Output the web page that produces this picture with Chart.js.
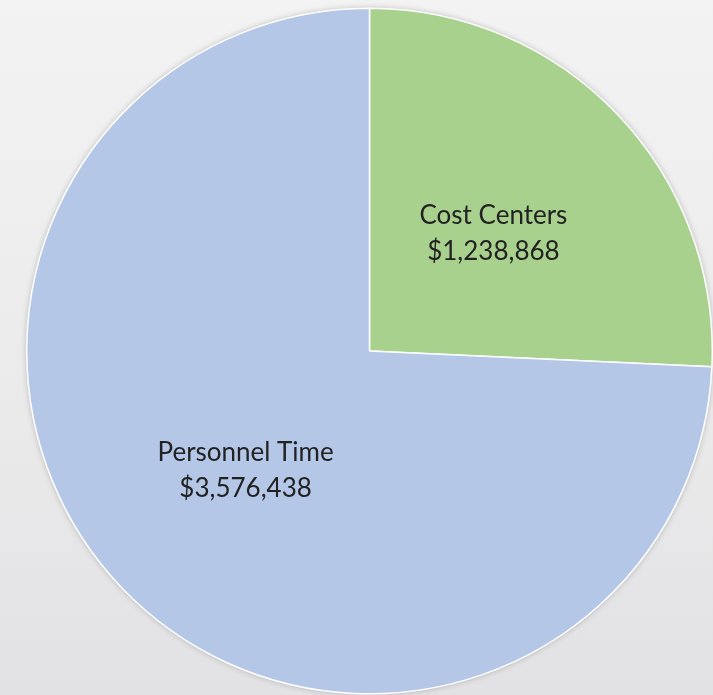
<!DOCTYPE html>
<html>
<head>
<meta charset="utf-8">
<script src="https://cdn.jsdelivr.net/npm/chart.js@4"></script>
<style>
  html, body { margin: 0; padding: 0; }
  body { width: 713px; height: 695px; background: linear-gradient(to bottom, #f3f3f4 0%, #ebebec 55%, #e2e2e4 100%); overflow: hidden; }
  #wrap { position: relative; width: 713px; height: 695px; }
</style>
</head>
<body>
<div id="wrap"><canvas id="c" width="713" height="695"></canvas></div>
<script>
const categories = ["Cost Centers", "Personnel Time"];
const values = [1238868, 3576438];
const valueLabels = ["$1,238,868", "$3,576,438"];
const colors = ["#a9d18e", "#b4c7e7"];

const labelPlugin = {
  id: 'sliceLabels',
  afterDatasetsDraw(chart) {
    const ctx = chart.ctx;
    const meta = chart.getDatasetMeta(0);
    ctx.save();
    ctx.font = '26px Lato';
    ctx.fillStyle = '#222222';
    ctx.textAlign = 'center';
    ctx.textBaseline = 'middle';
    meta.data.forEach((arc, i) => {
      const p = arc.getProps(['x', 'y', 'startAngle', 'endAngle', 'outerRadius'], true);
      const mid = (p.startAngle + p.endAngle) / 2;
      const r = p.outerRadius * 0.5;
      const x = p.x + Math.cos(mid) * r;
      const y = p.y + Math.sin(mid) * r;
      ctx.fillText(categories[i], x, y - 17);
      ctx.fillText(valueLabels[i], x, y + 19);
    });
    ctx.restore();
  }
};

const shadowPlugin = {
  id: 'pieShadow',
  beforeDatasetsDraw(chart) {
    const ctx = chart.ctx;
    const arc = chart.getDatasetMeta(0).data[0];
    if (!arc) return;
    const p = arc.getProps(['x', 'y', 'outerRadius'], true);
    ctx.save();
    ctx.shadowColor = 'rgba(0,0,0,0.25)';
    ctx.shadowBlur = 6;
    ctx.beginPath();
    ctx.arc(p.x, p.y, p.outerRadius, 0, Math.PI * 2);
    ctx.fillStyle = '#b4c7e7';
    ctx.fill();
    ctx.restore();
  }
};

new Chart(document.getElementById('c'), {
  type: 'pie',
  data: {
    labels: categories,
    datasets: [{
      data: values,
      backgroundColor: colors,
      borderColor: '#ffffff',
      borderWidth: 1.5
    }]
  },
  options: {
    responsive: false,
    animation: false,
    layout: { padding: { left: 26, top: 7, right: 0, bottom: 0 } },
    plugins: {
      legend: { display: false },
      tooltip: { enabled: false },
      title: { display: false }
    }
  },
  plugins: [shadowPlugin, labelPlugin]
});
</script>
</body>
</html>
